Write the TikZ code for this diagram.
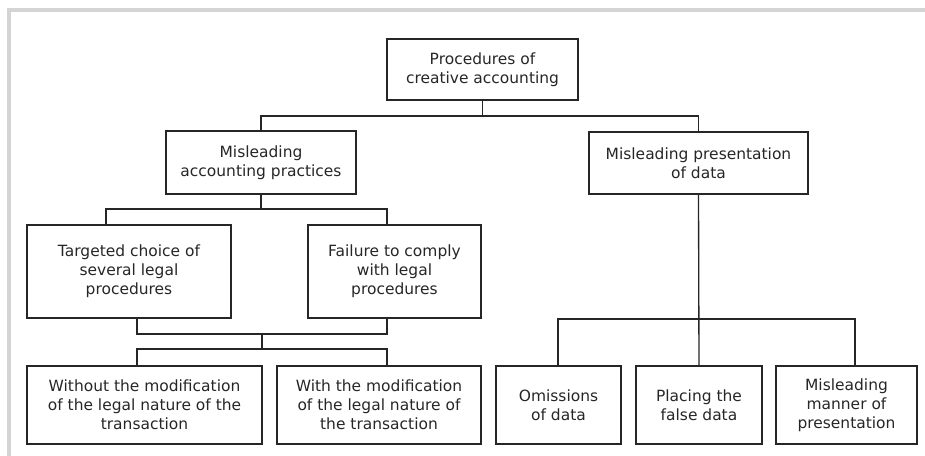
\documentclass[tikz,border=0pt]{standalone}
\usepackage{fontspec}
\setmainfont{DejaVu Sans}
\usetikzlibrary{calc}

\definecolor{framegray}{HTML}{D4D4D4}
\definecolor{inkgray}{HTML}{262626}

\tikzset{
  box/.style 2 args={draw=inkgray, line width=1.3pt, align=center, inner sep=0pt,
    minimum width=#1*0.75pt, minimum height=#2*0.75pt, text=inkgray,
    font=\fontsize{11.6}{14.3}\selectfont},
  link/.style={draw=inkgray, line width=1pt}
}

\begin{document}
\begin{tikzpicture}[x=0.75pt,y=-0.75pt]
  \useasboundingbox (0,0) rectangle (925,456);
  % Page frame
  \draw[framegray, line width=2.3pt] (9,456) -- (9,10) -- (925,10);

  % Level 1
  \node[box={191}{61}] (proc) at (482.5,69.5) {Procedures of\\creative accounting};

  % Level 2
  \node[box={190}{63}] (pract) at (261,162.5) {Misleading\\accounting practices};
  \node[box={219}{62}] (pres) at (698.5,163) {Misleading presentation\\of data};

  % Level 3 (practices)
  \node[box={204}{93}] (choice) at (129,271.5) {Targeted choice of\\several legal\\procedures};
  \node[box={173}{93}] (comply) at (394.5,271.5) {Failure to comply\\with legal\\procedures};

  % Level 4 (practices)
  \node[box={235}{78}] (without) at (144.5,405) {Without the modification\\of the legal nature of the\\transaction};
  \node[box={204}{78}] (with) at (379,405) {With the modification\\of the legal nature of\\the transaction};

  % Level 4 (presentation)
  \node[box={125}{78}] (omit) at (558.5,405) {Omissions\\of data};
  \node[box={126}{78}] (false) at (699,405) {Placing the\\false data};
  \node[box={141}{78}] (manner) at (846.5,405) {Misleading\\manner of\\presentation};

  % Connectors: top level
  \coordinate (j1) at (0,116);
  \draw[link] (proc.south) -- (proc.south |- j1);
  \draw[link] (pract.north) -- (pract.north |- j1) -- (pres.north |- j1) -- (pres.north);

  % Connectors: practices
  \coordinate (j2) at (106,209);
  \coordinate (j3) at (387,209);
  \draw[link] (pract.south) -- (pract.south |- j2);
  \draw[link] (choice.north -| j2) -- (j2) -- (j3) -- (comply.north -| j3);

  \coordinate (j4) at (137,334);
  \coordinate (j5) at (387,334);
  \coordinate (j6) at (137,349);
  \coordinate (j7) at (387,349);
  \draw[link] (choice.south -| j4) -- (j4) -- (j5) -- (comply.south -| j5);
  \draw[link] ($(j4)!0.5!(j5)$) -- ($(j6)!0.5!(j7)$);
  \draw[link] (without.north -| j6) -- (j6) -- (j7) -- (with.north -| j7);

  % Connectors: presentation
  \coordinate (j8) at (558,319);
  \coordinate (j9) at (855,319);
  \draw[link] (pres.south) -- (false.north);
  \draw[link] (omit.north -| j8) -- (j8) -- (j9) -- (manner.north -| j9);
\end{tikzpicture}
\end{document}
